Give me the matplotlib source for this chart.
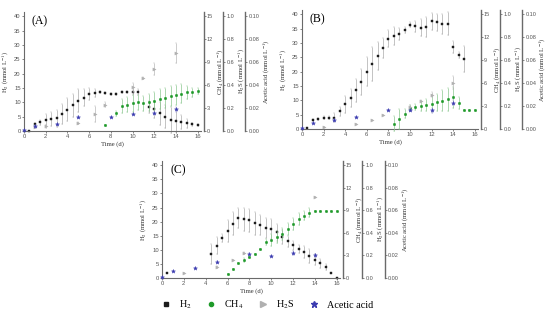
import matplotlib
matplotlib.use('Agg')
import matplotlib.pyplot as plt
from matplotlib.lines import Line2D

plt.rcParams['font.family'] = ['Liberation Serif', 'DejaVu Serif']
plt.rcParams['mathtext.fontset'] = 'stix'

# ---------------- Panel A ----------------
a_h2_t = [0.5, 1, 1.5, 2, 2.5, 3, 3.5, 4, 4.5, 5, 5.5, 6, 6.5, 7, 7.5, 8, 8.5, 9, 9.5, 10, 10.5,
          11.5, 12, 12.5, 13, 13.5, 14, 14.5, 15, 15.5, 16]
a_h2 = [0.0, 2.3, 3.0, 4.0, 4.1, 4.4, 5.8, 7.4, 9.0, 10.5, 11.6, 12.9, 13.2, 13.6, 13.3, 13.0, 13.0, 13.6, 13.6, 13.5, 13.5,
        8.4, 7.5, 6.2, 5.0, 3.9, 3.5, 3.1, 2.7, 2.3, 2.0]
a_h2_e = [0, 0.5, 1, 2, 2.5, 3, 3.5, 4, 4, 4, 3, 2, 1.5, 0.5, 0.3, 0.3, 0.3, 0.5, 0.5, 1, 1,
          2, 3, 4, 4, 4.5, 4, 2.5, 1.5, 0.5, 0.3]
a_ch4_t = [7.5, 8.5, 9, 9.5, 10, 10.5, 11, 11.5, 12, 12.5, 13, 13.5, 14, 14.5, 15, 15.5, 16]
a_ch4 = [0.85, 2.3, 3.25, 3.45, 3.6, 3.75, 3.6, 3.75, 3.95, 4.15, 4.35, 4.55, 4.75, 4.9, 5.05, 5.05, 5.2]
a_ch4_e = [0, 0.3, 0.9, 1.0, 1.1, 1.0, 1.0, 1.1, 1.2, 1.3, 1.3, 1.3, 1.3, 1.2, 0.9, 0.6, 0.4]
a_h2s_t = [1, 2, 5, 6.5, 7.5, 10, 11, 12, 14]
a_h2s = [0.035, 0.04, 0.07, 0.15, 0.23, 0.38, 0.46, 0.54, 0.68]
a_h2s_e = [0.01, 0.01, 0.01, 0.07, 0.02, 0.04, 0.01, 0.05, 0.09]
a_ac_t = [0, 1, 3, 5, 8, 10, 12, 14]
a_ac = [0.0012, 0.004, 0.0065, 0.012, 0.012, 0.0145, 0.016, 0.019]
a_ac_e = [0, 0.001, 0, 0.001, 0, 0, 0.001, 0.002]

# ---------------- Panel B ----------------
b_h2_t = [0.5, 1, 1.5, 2, 2.5, 3, 3.5, 4, 4.5, 5, 5.5, 6, 6.5, 7, 7.5, 8, 8.5, 9, 9.5, 10, 10.5,
          11, 11.5, 12, 12.5, 13, 13.5, 14, 14.5, 15]
b_h2 = [0.2, 3.1, 3.6, 4.0, 4.0, 4.0, 6.2, 8.6, 10.8, 13.5, 16.5, 20.0, 22.7, 25.5, 28.2, 31.5, 32.4, 33.2, 34.6, 36.4, 35.8,
        35.3, 35.5, 37.6, 37.2, 36.7, 36.7, 28.6, 25.9, 24.4]
b_h2_e = [0, 0.3, 0.3, 0.5, 0.5, 1.5, 1.5, 3, 3, 4, 4.5, 5, 6, 5, 3.5, 3, 3, 2, 1, 1, 2,
          3, 3.5, 3, 3, 3.5, 4, 2, 1, 4.5]
b_ch4_t = [8.5, 9, 9.5, 10, 10.5, 11, 11.5, 12, 12.5, 13, 13.5, 14, 14.5, 15, 15.5, 16]
b_ch4 = [0.7, 1.3, 2.0, 2.7, 2.85, 3.0, 3.15, 3.3, 3.5, 3.7, 3.9, 4.15, 3.4, 2.5, 2.5, 2.5]
b_ch4_e = [1.0, 1.3, 0.6, 0.4, 0.4, 0.6, 0.8, 1.1, 1.1, 1.4, 1.5, 1.4, 0.8, 0, 0, 0]
b_h2s_t = [2, 5, 6.5, 7.5, 10, 11, 12, 14]
b_h2s = [0.02, 0.04, 0.08, 0.12, 0.195, 0.245, 0.30, 0.405]
b_h2s_e = [0, 0, 0, 0, 0.01, 0.01, 0.02, 0.06]
b_ac_t = [0, 1, 3, 5, 8, 10, 12, 14]
b_ac = [0.0005, 0.0048, 0.0078, 0.0103, 0.0163, 0.017, 0.0163, 0.023]
b_ac_e = [0, 0, 0.001, 0, 0, 0.001, 0.002, 0.002]

# ---------------- Panel C ----------------
c_h2_t = [0.5, 4.5, 5, 5.5, 6, 6.5, 7, 7.5, 8, 8.5, 9, 9.5, 10, 10.5, 11, 11.5, 12, 12.5, 13, 13.5,
          14, 14.5, 15, 15.5, 16]
c_h2 = [1.8, 8.5, 11.5, 14.2, 16.7, 19.3, 21.3, 20.8, 20.4, 19.4, 18.7, 17.8, 17.3, 16.2, 14.4, 13.0, 11.6, 10.3, 9.2, 7.7,
        6.5, 5.2, 3.8, 1.7, 0.1]
c_h2_e = [0, 3.5, 3, 1.5, 4, 4, 3.5, 4, 4, 4, 3.5, 3.5, 3.5, 3, 2.5, 2, 1.5, 1.5, 2, 2.5,
          2, 1.5, 1, 0, 0]
c_ch4_t = [6, 6.5, 7, 7.5, 8, 8.5, 9, 9.5, 10, 10.5, 11, 11.5, 12, 12.5, 13, 13.5, 14, 14.5, 15, 15.5, 16]
c_ch4 = [0.55, 1.25, 2.0, 2.4, 2.8, 3.2, 3.8, 4.75, 5.0, 5.4, 5.9, 6.55, 7.15, 7.8, 8.3, 8.65, 8.9, 8.9, 8.9, 8.9, 8.9]
c_ch4_e = [0, 0, 0, 0.3, 0, 0, 0, 0.4, 0.8, 0.8, 0.8, 0.8, 0.8, 0.8, 0.6, 0.6, 0, 0, 0, 0, 0]
c_h2s_t = [2, 5, 6.5, 7.5, 14]
c_h2s = [0.048, 0.1, 0.16, 0.22, 0.715]
c_h2s_e = [0, 0.01, 0, 0.01, 0]
c_ac_t = [0, 1, 3, 5, 8, 10, 12, 14]
c_ac = [0.0005, 0.006, 0.009, 0.014, 0.021, 0.0195, 0.022, 0.020]
c_ac_e = [0, 0, 0, 0.001, 0.001, 0, 0.002, 0.001]

# axis tick labels
x_ticks = [0, 2, 4, 6, 8, 10, 12, 14, 16]
h2_ticks = [0, 5, 10, 15, 20, 25, 30, 35, 40]
ch4_ticks = [0, 3, 6, 9, 12, 15]
h2s_ticks = [0.0, 0.2, 0.4, 0.6, 0.8, 1.0]
ac_ticks = [0.00, 0.02, 0.04, 0.06, 0.08, 0.10]

C_H2 = '#1c1c1c'
C_CH4 = '#1f9a2a'
C_H2S = '#b0b0b0'
C_AC = '#3b3bb0'
SPINE = '#6a6a6a'
TICKC = '#555555'
TF = 'Liberation Sans'
FAC = 41.5 / 40.0

fig = plt.figure(figsize=(5.5, 3.21), dpi=100)


def style_twin(tw, pos, ticks, fmt, label, lp):
    for s in ['left', 'top', 'bottom']:
        tw.spines[s].set_visible(False)
    tw.spines['right'].set_position(('axes', pos))
    tw.spines['right'].set_color(SPINE)
    tw.spines['right'].set_linewidth(1.0)
    tw.set_ylim(0, ticks[-1] * FAC)
    tw.set_yticks(ticks)
    tw.set_yticklabels([fmt.format(t) for t in ticks], fontsize=4.0, color=TICKC, family=TF)
    tw.tick_params(axis='y', direction='out', length=1.2, width=0.5, pad=1.2, colors=TICKC)
    tw.set_ylabel(label, fontsize=4.8, color='#333333', labelpad=lp)


def panel(rect, letter, d):
    ax = fig.add_axes(rect)
    ax.set_xlim(0, 16.3)
    ax.set_ylim(0, 40 * FAC)
    ax.set_xticks(x_ticks)
    ax.set_xticklabels([str(t) for t in x_ticks], fontsize=4.2, color=TICKC, family=TF)
    ax.set_yticks(h2_ticks)
    ax.set_yticklabels([str(t) for t in h2_ticks], fontsize=4.2, color=TICKC, family=TF)
    ax.tick_params(direction='out', length=1.2, width=0.5, pad=1.2, colors=TICKC)
    for s in ['top', 'right']:
        ax.spines[s].set_visible(False)
    for s in ['left', 'bottom']:
        ax.spines[s].set_color(SPINE)
        ax.spines[s].set_linewidth(0.8)
    ax.set_ylabel('H$_2$ (mmol L$^{-1}$)', fontsize=4.8, color='#333333', labelpad=2)
    ax.set_xlabel('Time (d)', fontsize=4.8, color='#333333', labelpad=1.5)
    ax.text(0.045, 0.92, letter, transform=ax.transAxes, fontsize=8.5, va='center', ha='left')

    t_ch4 = ax.twinx()
    t_h2s = ax.twinx()
    t_ac = ax.twinx()
    style_twin(t_ch4, 1.015, ch4_ticks, '{:d}', 'CH$_4$ (mmol L$^{-1}$)', 1.5)
    style_twin(t_h2s, 1.125, h2s_ticks, '{:.1f}', 'H$_2$S (mmol L$^{-1}$)', 1.5)
    style_twin(t_ac, 1.25, ac_ticks, '{:.2f}', 'Acetic acid (mmol L$^{-1}$)', 1.0)

    ekw = dict(capsize=1.0, elinewidth=0.5, capthick=0.5, linestyle='none', clip_on=False, mew=0.3)
    t_h2s.errorbar(d['h2s_t'], d['h2s'], yerr=d['h2s_e'], fmt='>', ms=2.3, color=C_H2S,
                   ecolor='#b8b8b8', mec=C_H2S, **ekw)
    t_ch4.errorbar(d['ch4_t'], d['ch4'], yerr=d['ch4_e'], fmt='o', ms=1.8, color=C_CH4,
                   ecolor='#8cc890', mec=C_CH4, **ekw)
    ax.errorbar(d['h2_t'], d['h2'], yerr=d['h2_e'], fmt='s', ms=1.7, color=C_H2,
                ecolor='#ababab', mec=C_H2, **ekw)
    t_ac.errorbar(d['ac_t'], d['ac'], yerr=d['ac_e'], fmt='*', ms=3.0, color=C_AC,
                  ecolor='#a8a8d8', mec=C_AC, **ekw)
    return ax


panel([24 / 550, 1 - 131 / 321, 177 / 550, 119 / 321], '(A)',
      dict(h2_t=a_h2_t, h2=a_h2, h2_e=a_h2_e, ch4_t=a_ch4_t, ch4=a_ch4, ch4_e=a_ch4_e,
           h2s_t=a_h2s_t, h2s=a_h2s, h2s_e=a_h2s_e, ac_t=a_ac_t, ac=a_ac, ac_e=a_ac_e))
panel([302 / 550, 1 - 129 / 321, 176 / 550, 119 / 321], '(B)',
      dict(h2_t=b_h2_t, h2=b_h2, h2_e=b_h2_e, ch4_t=b_ch4_t, ch4=b_ch4, ch4_e=b_ch4_e,
           h2s_t=b_h2s_t, h2s=b_h2s, h2s_e=b_h2s_e, ac_t=b_ac_t, ac=b_ac, ac_e=b_ac_e))
panel([162 / 550, 1 - 278 / 321, 178 / 550, 117 / 321], '(C)',
      dict(h2_t=c_h2_t, h2=c_h2, h2_e=c_h2_e, ch4_t=c_ch4_t, ch4=c_ch4, ch4_e=c_ch4_e,
           h2s_t=c_h2s_t, h2s=c_h2s, h2s_e=c_h2s_e, ac_t=c_ac_t, ac=c_ac, ac_e=c_ac_e))

handles = [
    Line2D([], [], marker='s', ms=3.2, color=C_H2, linestyle='none'),
    Line2D([], [], marker='o', ms=3.0, color=C_CH4, linestyle='none'),
    Line2D([], [], marker='>', ms=4.2, color=C_H2S, linestyle='none'),
    Line2D([], [], marker='*', ms=4.8, color=C_AC, linestyle='none'),
]
labels = ['H$_2$', 'CH$_4$', 'H$_2$S', 'Acetic acid']
fig.legend(handles, labels, loc='center', bbox_to_anchor=(0.485, 0.05), ncol=4, frameon=False,
           fontsize=7.3, handletextpad=0.7, columnspacing=1.3, handlelength=1.2)

fig.savefig('out.png', dpi=100)
